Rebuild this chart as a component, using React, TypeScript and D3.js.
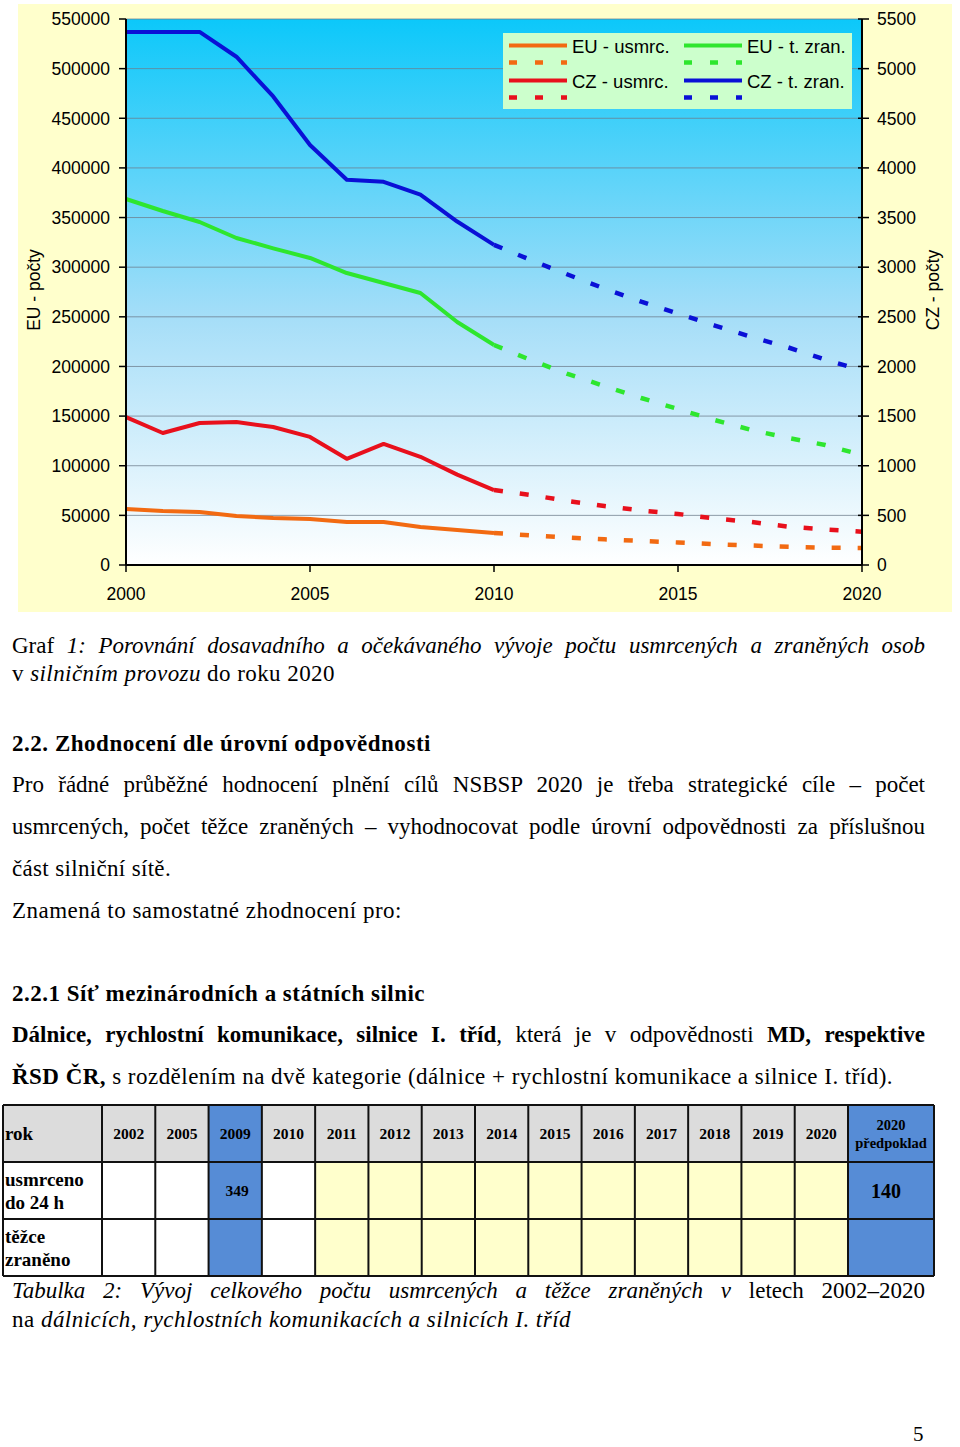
import React, { useLayoutEffect, useRef } from "react";
import * as d3 from "d3";

// ---------- data ----------
const actualYears = [2000, 2001, 2002, 2003, 2004, 2005, 2006, 2007, 2008, 2009, 2010];
const forecastYears = [2010, 2011, 2012, 2013, 2014, 2015, 2016, 2017, 2018, 2019, 2020];

const euDeathsActual = [56400, 54400, 53400, 49400, 47300, 46300, 43300, 43300, 38300, 35300, 32200];
const euDeathsForecast = [32200, 29900, 27700, 25900, 24200, 22700, 21000, 19600, 18400, 17400, 17100];
const euInjActual = [368700, 356600, 345500, 329400, 319000, 309300, 294100, 284100, 274000, 244800, 221600];
const euInjForecast = [221600, 206500, 192400, 180300, 168200, 157100, 146000, 136000, 127900, 120900, 110800];
const czDeathsActual = [1490, 1330, 1430, 1440, 1390, 1290, 1070, 1220, 1090, 910, 755];
const czDeathsForecast = [755, 705, 645, 594, 549, 514, 468, 433, 386, 358, 335];
const czInjActual = [5370, 5370, 5370, 5120, 4720, 4230, 3880, 3860, 3730, 3460, 3225];
const czInjForecast = [3225, 3072, 2926, 2785, 2653, 2532, 2412, 2297, 2191, 2070, 1960];

const leftTicks = [0, 50000, 100000, 150000, 200000, 250000, 300000, 350000, 400000, 450000, 500000, 550000];
const rightTicks = [0, 500, 1000, 1500, 2000, 2500, 3000, 3500, 4000, 4500, 5000, 5500];
const xTicks = [2000, 2005, 2010, 2015, 2020];

const tableYears = ["2002", "2005", "2009", "2010", "2011", "2012", "2013", "2014", "2015", "2016", "2017", "2018", "2019", "2020"];
const deaths2009 = "349";
const deathsTarget = "140";

// ---------- layout ----------
const W = 960;
const H = 1447;
const PL = 126, PR = 862, PT = 19, PB = 565;

const x = d3.scaleLinear().domain([2000, 2020]).range([PL, PR]);
const yL = d3.scaleLinear().domain([0, 550000]).range([PB, PT]);
const yR = d3.scaleLinear().domain([0, 5500]).range([PB, PT]);

const SANS = "'Liberation Sans', Arial, sans-serif";
const SERIF = "'Liberation Serif', 'Times New Roman', serif";

type Series = { key: string; color: string; scale: d3.ScaleLinear<number, number>; actual: number[]; forecast: number[] };
const series: Series[] = [
  { key: "euD", color: "#f26a12", scale: yL, actual: euDeathsActual, forecast: euDeathsForecast },
  { key: "euI", color: "#2ee62e", scale: yL, actual: euInjActual, forecast: euInjForecast },
  { key: "czD", color: "#e8101c", scale: yR, actual: czDeathsActual, forecast: czDeathsForecast },
  { key: "czI", color: "#0a10d6", scale: yR, actual: czInjActual, forecast: czInjForecast },
];

function linePath(years: number[], vals: number[], scale: d3.ScaleLinear<number, number>) {
  const gen = d3.line<number>().x((_, i) => x(years[i])).y((v) => scale(v));
  return gen(vals) || "";
}

const tableX = d3.scaleBand<string>().domain(tableYears).range([102, 848]);
const rowY = [1105, 1162, 1219, 1276];

function fitTexts(svg: SVGSVGElement | null) {
  if (!svg) return;
  svg.querySelectorAll<SVGTextElement>("text[data-w]").forEach((el) => {
    const target = +(el.getAttribute("data-w") || 0);
    const just = el.getAttribute("data-j") === "1";
    el.style.wordSpacing = "0px";
    el.style.letterSpacing = "0px";
    const len = el.getComputedTextLength();
    const txt = el.textContent || "";
    if (just) {
      const n = (txt.match(/ /g) || []).length;
      if (n > 0) el.style.wordSpacing = (target - len) / n + "px";
    } else {
      const n = txt.length;
      if (n > 1) el.style.letterSpacing = (target - len) / n + "px";
    }
  });
}

export default function App() {
  const BW = tableX.bandwidth();
  const svgRef = useRef<SVGSVGElement>(null);
  useLayoutEffect(() => {
    fitTexts(svgRef.current);
    if ((document as any).fonts && (document as any).fonts.ready) {
      (document as any).fonts.ready.then(() => fitTexts(svgRef.current));
    }
  }, []);
  return (
    <div style={{ position: "absolute", left: 0, top: 0, width: W, height: H, background: "#fff" }}>
      <svg ref={svgRef} width={W} height={H} xmlns="http://www.w3.org/2000/svg" style={{ display: "block" }}>
        <defs>
          <linearGradient id="plotbg" x1="0" y1="0" x2="0" y2="1">
            <stop offset="0" stopColor="#0cc8fa" />
            <stop offset="0.55" stopColor="#a6def8" />
            <stop offset="1" stopColor="#ffffff" />
          </linearGradient>
        </defs>
        {/* chart outer area */}
        <rect x={18} y={4} width={934} height={608} fill="#ffffcc" />
        <rect x={PL} y={PT} width={PR - PL} height={PB - PT} fill="url(#plotbg)" />
        {/* gridlines */}
        {leftTicks.slice(1).map((t) => (
          <line key={"g" + t} x1={PL} x2={PR} y1={yL(t)} y2={yL(t)} stroke="#6d7d8c" strokeWidth={1} opacity={0.75} />
        ))}
        {/* lines */}
        {series.map((s) => (
          <g key={s.key}>
            <path d={linePath(actualYears, s.actual, s.scale)} fill="none" stroke={s.color} strokeWidth={4} strokeLinejoin="round" />
            <path d={linePath(forecastYears, s.forecast, s.scale)} fill="none" stroke={s.color} strokeWidth={4.5} strokeDasharray="9 17" />
          </g>
        ))}
        {/* axes */}
        <line x1={PL} x2={PL} y1={PT} y2={PB} stroke="#000" strokeWidth={2} />
        <line x1={PR} x2={PR} y1={PT} y2={PB} stroke="#000" strokeWidth={2} />
        <line x1={PL} x2={PR} y1={PB} y2={PB} stroke="#000" strokeWidth={2} />
        {leftTicks.map((t) => (
          <g key={"l" + t}>
            <line x1={PL - 7} x2={PL} y1={yL(t)} y2={yL(t)} stroke="#000" strokeWidth={1.5} />
            <text x={110} y={yL(t)} dy="0.36em" textAnchor="end" fontFamily={SANS} fontSize={17.5} fill="#000">{t}</text>
          </g>
        ))}
        {rightTicks.map((t) => (
          <g key={"r" + t}>
            <line x1={PR - 4} x2={PR + 7} y1={yR(t)} y2={yR(t)} stroke="#000" strokeWidth={1.5} />
            <text x={877} y={yR(t)} dy="0.36em" textAnchor="start" fontFamily={SANS} fontSize={17.5} fill="#000">{t}</text>
          </g>
        ))}
        {xTicks.map((t) => (
          <g key={"x" + t}>
            <line x1={x(t)} x2={x(t)} y1={PB} y2={PB + 7} stroke="#000" strokeWidth={1.5} />
            <text x={x(t)} y={600} textAnchor="middle" fontFamily={SANS} fontSize={17.5} fill="#000">{t}</text>
          </g>
        ))}
        <text transform="translate(40,290) rotate(-90)" textAnchor="middle" fontFamily={SANS} fontSize={17.5}>EU - počty</text>
        <text transform="translate(939,290) rotate(-90)" textAnchor="middle" fontFamily={SANS} fontSize={17.5}>CZ - počty</text>

        {/* legend */}
        <rect x={503} y={33} width={349} height={76} fill="#ccffcc" />
        {[
          { c: series[0].color, label: "EU - usmrc.", lx: 509, ly: 45.5 },
          { c: series[1].color, label: "EU - t. zran.", lx: 684, ly: 45.5 },
          { c: series[2].color, label: "CZ - usmrc.", lx: 509, ly: 80.5 },
          { c: series[3].color, label: "CZ - t. zran.", lx: 684, ly: 80.5 },
        ].map((e) => (
          <g key={e.label}>
            <line x1={e.lx} x2={e.lx + 58} y1={e.ly} y2={e.ly} stroke={e.c} strokeWidth={4} />
            <line x1={e.lx} x2={e.lx + 58} y1={e.ly + 17} y2={e.ly + 17} stroke={e.c} strokeWidth={4.5} strokeDasharray="8 18" />
            <text x={e.lx + 63} y={e.ly + 7} fontFamily={SANS} fontSize={18.5}>{e.label}</text>
          </g>
        ))}

        {/* document text */}
        <g fontFamily={SERIF} fontSize={23} fill="#000">
          <text x={12} y={653} data-w={913} data-j="1">
            Graf <tspan fontStyle="italic">1: Porovnání dosavadního a očekávaného vývoje počtu usmrcených a zraněných osob</tspan>
          </text>
          <text x={12} y={681} data-w={323}>
            v <tspan fontStyle="italic">silničním provozu</tspan> do roku 2020
          </text>
          <text x={12} y={751} fontWeight="bold" data-w={419}>2.2. Zhodnocení dle úrovní odpovědnosti</text>
          <text x={12} y={792} data-w={913} data-j="1">Pro řádné průběžné hodnocení plnění cílů NSBSP 2020 je třeba strategické cíle – počet</text>
          <text x={12} y={834} data-w={913} data-j="1">usmrcených, počet těžce zraněných – vyhodnocovat podle úrovní odpovědnosti za příslušnou</text>
          <text x={12} y={876} data-w={159}>část silniční sítě.</text>
          <text x={12} y={918} data-w={390}>Znamená to samostatné zhodnocení pro:</text>
          <text x={12} y={1001} fontWeight="bold" data-w={413}>2.2.1 Síť mezinárodních a státních silnic</text>
          <text x={12} y={1042} data-w={913} data-j="1">
            <tspan fontWeight="bold">Dálnice, rychlostní komunikace, silnice I. tříd</tspan>, která je v odpovědnosti <tspan fontWeight="bold">MD, respektive</tspan>
          </text>
          <text x={12} y={1084} data-w={881}>
            <tspan fontWeight="bold">ŘSD ČR,</tspan> s rozdělením na dvě kategorie (dálnice + rychlostní komunikace a silnice I. tříd).
          </text>
          <text x={12} y={1298} data-w={913} data-j="1">
            <tspan fontStyle="italic">Tabulka 2: Vývoj celkového počtu usmrcených a těžce zraněných v</tspan> letech 2002–2020
          </text>
          <text x={12} y={1327} data-w={559}>
            na <tspan fontStyle="italic">dálnicích, rychlostních komunikacích a silnicích I. tříd</tspan>
          </text>
          <text x={913} y={1441} fontSize={21}>5</text>
        </g>

        {/* table */}
        <g fontFamily={SERIF} fontWeight="bold" fill="#000">
          <rect x={3} y={rowY[0]} width={99} height={57} fill="#dcdcdc" />
          {tableYears.map((yr, i) => {
            const cx = tableX(yr) as number;
            const isBlue = yr === "2009";
            const bodyFill = isBlue ? "#568cd6" : i >= 4 ? "#ffffcc" : "#ffffff";
            return (
              <g key={"c" + i}>
                <rect x={cx} y={rowY[0]} width={BW} height={57} fill={isBlue ? "#568cd6" : "#dcdcdc"} />
                <rect x={cx} y={rowY[1]} width={BW} height={114} fill={bodyFill} />
                <text x={cx + BW / 2} y={1139} textAnchor="middle" fontSize={15.5}>{yr}</text>
              </g>
            );
          })}
          <rect x={848} y={rowY[0]} width={86} height={171} fill="#568cd6" />
          {rowY.map((ry) => (
            <line key={"rl" + ry} x1={3} x2={934} y1={ry} y2={ry} stroke="#111" strokeWidth={2} />
          ))}
          {[3, ...tableYears.map((yr) => tableX(yr) as number), 848, 934].map((cx, i) => (
            <line key={"cl" + i} x1={cx} x2={cx} y1={rowY[0]} y2={rowY[3]} stroke="#111" strokeWidth={2} />
          ))}
          <text x={5} y={1140} fontSize={19}>rok</text>
          <text x={891} y={1130} textAnchor="middle" fontSize={14.5}>2020</text>
          <text x={891} y={1148} textAnchor="middle" fontSize={14.5}>předpoklad</text>
          <text x={5} y={1186} fontSize={19}>usmrceno</text>
          <text x={5} y={1209} fontSize={19}>do 24 h</text>
          <text x={5} y={1243} fontSize={19}>těžce</text>
          <text x={5} y={1266} fontSize={19}>zraněno</text>
          <text x={(tableX("2009") as number) + BW / 2 + 2} y={1196} textAnchor="middle" fontSize={15.5}>{deaths2009}</text>
          <text x={886} y={1198} textAnchor="middle" fontSize={20}>{deathsTarget}</text>
        </g>
      </svg>
    </div>
  );
}
